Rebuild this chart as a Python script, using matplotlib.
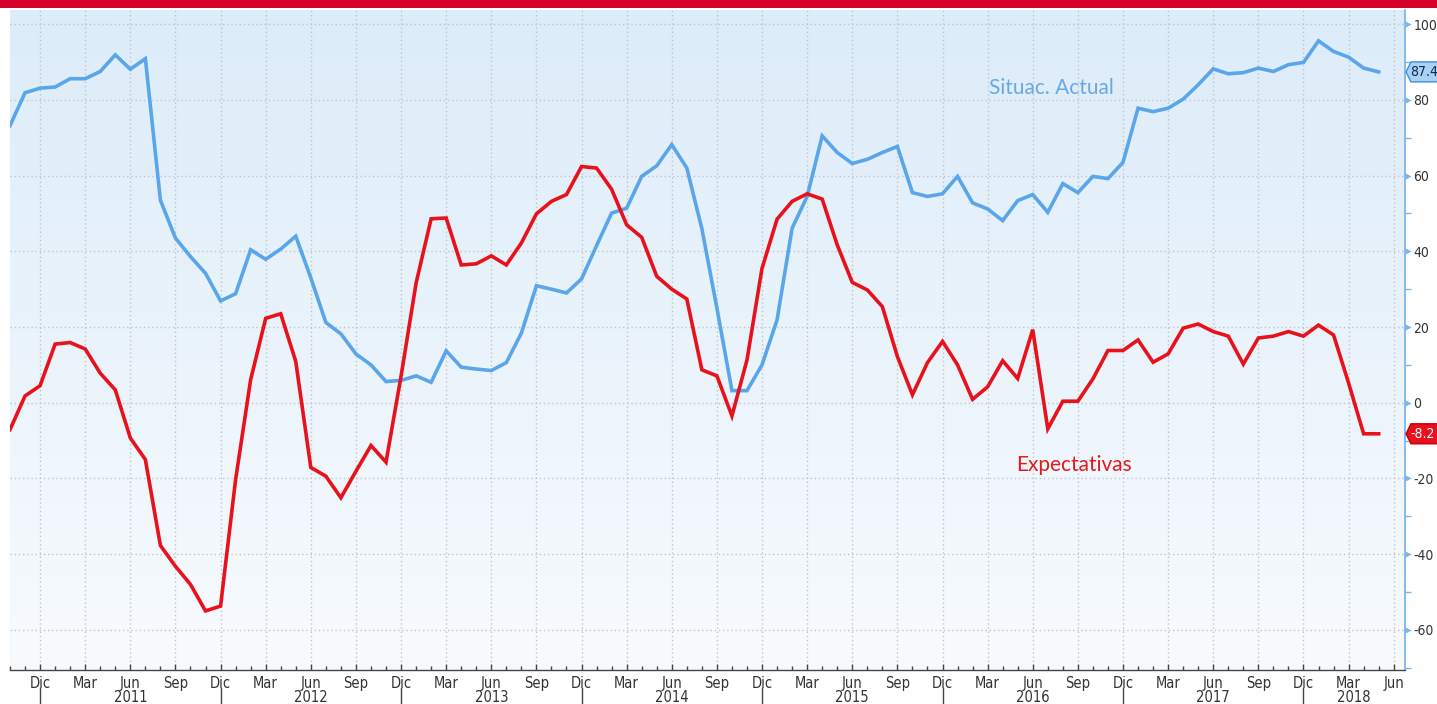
import numpy as np
import matplotlib
matplotlib.use("Agg")
import matplotlib.pyplot as plt
from matplotlib import font_manager as fm
from matplotlib.patches import Rectangle, Polygon
from matplotlib.lines import Line2D

# ---------------- data (monthly, Oct 2010 .. May 2018) ----------------
start_year, start_month = 2010, 10
situac_actual = [73.2, 81.9, 83.1, 83.4, 85.6, 85.6, 87.5, 91.9, 88.1, 90.9,
                 53.5, 43.5, 38.6, 34.2, 26.9, 28.8, 40.4, 37.9, 40.6, 44.0,
                 33.0, 21.2, 18.2, 12.9, 10.0, 5.6, 5.9, 7.1, 5.4, 13.7,
                 9.4, 8.9, 8.5, 10.6, 18.4, 30.9, 30.0, 29.0, 32.7, 41.5,
                 50.1, 51.4, 59.8, 62.6, 68.2, 62.0, 46.0, 25.0, 3.2, 3.2,
                 10.0, 21.9, 46.1, 54.5, 70.5, 66.1, 63.2, 64.3, 66.1, 67.7,
                 55.5, 54.5, 55.2, 59.8, 52.8, 51.2, 48.1, 53.4, 55.0, 50.3,
                 57.9, 55.5, 59.8, 59.2, 63.5, 77.8, 76.9, 77.8, 80.2, 84.0,
                 88.2, 86.9, 87.2, 88.4, 87.5, 89.3, 89.9, 95.6, 92.8, 91.3,
                 88.4, 87.4]
expectativas = [-7.1, 1.8, 4.5, 15.5, 15.9, 14.2, 7.8, 3.4, -9.3, -15.0,
                -37.7, -43.2, -48.0, -55.0, -53.7, -20.3, 6.1, 22.3, 23.5, 10.9,
                -17.1, -19.4, -25.1, -18.1, -11.3, -15.7, 7.0, 31.6, 48.6, 48.8,
                36.4, 36.7, 38.8, 36.4, 42.2, 49.9, 53.2, 55.0, 62.4, 62.0,
                56.4, 47.0, 43.7, 33.4, 30.0, 27.4, 8.7, 7.1, -3.5, 11.3,
                35.5, 48.5, 53.2, 55.2, 53.8, 41.7, 31.8, 29.8, 25.4, 12.2,
                2.1, 10.6, 16.2, 10.0, 0.9, 4.2, 11.1, 6.4, 19.3, -6.9,
                0.4, 0.4, 6.3, 13.8, 13.8, 16.6, 10.7, 12.9, 19.7, 20.8,
                18.8, 17.6, 10.2, 17.1, 17.6, 18.8, 17.6, 20.5, 17.9, 5.2,
                -8.2, -8.2]
month_names = ["Ene", "Feb", "Mar", "Abr", "May", "Jun",
               "Jul", "Ago", "Sep", "Oct", "Nov", "Dic"]
labelled_months = ["Dic", "Mar", "Jun", "Sep"]
series_names = ["Situac. Actual", "Expectativas"]
last_labels = ["87.4", "-8.2"]
y_ticks = [-60, -40, -20, 0, 20, 40, 60, 80, 100]

# ---------------- fonts ----------------
def pick_narrow():
    for fam, stretch, key in [("Liberation Sans Narrow", "normal", "Narrow"),
                              ("DejaVu Sans", "condensed", "Condensed")]:
        try:
            p = fm.findfont(fm.FontProperties(family=fam, stretch=stretch),
                            fallback_to_default=False)
            if key.lower() in p.lower():
                return dict(family=fam, stretch=stretch), True
        except Exception:
            pass
    return dict(family="DejaVu Sans"), False

TICK_FONT, NARROW = pick_narrow()
TICK_SIZE = 10.5 if NARROW else 9.5
YTICK_SIZE = 10 if NARROW else 9
LABEL_FONT = dict(family=["Lato", "DejaVu Sans"])

# ---------------- style ----------------
W, H = 1437, 704
BLUE = "#5aa6ea"
RED = "#e8121c"
AX_BLUE = "#7db6ea"
TXT = "#333333"

fig = plt.figure(figsize=(W / 100, H / 100), dpi=100)
fig.patch.set_facecolor("white")

# top red band
fig.add_artist(Rectangle((0, 1 - 8 / H), 1, 8 / H, transform=fig.transFigure,
                         facecolor="#d6002a", edgecolor="none"))

ax_l, ax_r, ax_t, ax_b = 10, 1405, 10, 670
ax = fig.add_axes([ax_l / W, (H - ax_b) / H, (ax_r - ax_l) / W, (ax_b - ax_t) / H])

n = len(situac_actual)
x = np.arange(n)
XMAX = 92.75
ax.set_xlim(0, XMAX)
ax.set_ylim(-70.6, 103.75)

# gradient background
grad = np.linspace(0, 1, 256).reshape(-1, 1)
c_top = np.array(matplotlib.colors.to_rgb("#dcecf9"))
c_bot = np.array(matplotlib.colors.to_rgb("#f8fbfe"))
img = c_bot[None, None, :] * (1 - grad[:, :, None]) + c_top[None, None, :] * grad[:, :, None]
ax.imshow(img, extent=[0, 1, 0, 1], transform=ax.transAxes, aspect="auto",
          origin="lower", zorder=0, interpolation="bilinear")

# month bookkeeping
months = [(start_month - 1 + i) % 12 for i in range(n + 2)]
years = [start_year + (start_month - 1 + i) // 12 for i in range(n + 2)]
quarter_idx = [i for i in range(n + 2) if month_names[months[i]] in labelled_months
               and i <= XMAX]
dec_idx = [i for i in quarter_idx if month_names[months[i]] == "Dic"]

# grid
for i in quarter_idx:
    ax.axvline(i, color="#bfc4c9", lw=1.0, ls=(0, (1, 2)), zorder=1)
for v in y_ticks:
    ax.axhline(v, color="#bfc4c9", lw=1.0, ls=(0, (1, 2)), zorder=1)

# series
ax.plot(x, situac_actual, color=BLUE, lw=2.6, zorder=3, solid_joinstyle="miter")
ax.plot(x, expectativas, color=RED, lw=2.6, zorder=3, solid_joinstyle="miter")

# series labels
ax.text(65.1, 83.1, series_names[0], color="#69a9e2", fontsize=15,
        ha="left", va="center", zorder=4, **LABEL_FONT)
ax.text(66.9, -16.5, series_names[1], color="#e3191c", fontsize=15,
        ha="left", va="center", zorder=4, **LABEL_FONT)

# spines
for s in ["left", "top"]:
    ax.spines[s].set_visible(False)
ax.spines["right"].set_color(AX_BLUE)
ax.spines["right"].set_linewidth(1.3)
ax.spines["bottom"].set_color("#444444")
ax.spines["bottom"].set_linewidth(1.0)

# y axis (right)
ax.yaxis.tick_right()
ax.set_yticks(y_ticks)
ax.set_yticklabels([str(v) for v in y_ticks])
ax.set_yticks(np.arange(-70, 101, 10), minor=True)
ax.tick_params(axis="y", which="major", length=0, pad=6, labelcolor=TXT)
ax.tick_params(axis="y", which="minor", length=4, width=1, color=AX_BLUE,
               direction="out")
ytr = ax.get_yaxis_transform()
ax.scatter([1.0025] * len(y_ticks), y_ticks, marker=">", s=22, color=AX_BLUE,
           transform=ytr, clip_on=False, zorder=5, linewidths=0)

# x axis
ax.set_xticks(quarter_idx)
ax.set_xticklabels([month_names[months[i]] for i in quarter_idx])
ax.set_xticks(np.arange(0, 93, 1), minor=True)
ax.tick_params(axis="x", which="major", direction="in", length=4, width=1,
               color="#444444", pad=4, labelcolor=TXT)
ax.tick_params(axis="x", which="minor", direction="in", length=3, width=1,
               color="#444444")
for lab in ax.get_xticklabels():
    lab.set_fontproperties(fm.FontProperties(size=TICK_SIZE, **TICK_FONT))
for lab in ax.get_yticklabels():
    lab.set_fontproperties(fm.FontProperties(size=YTICK_SIZE, **TICK_FONT))

# year labels and separators
xtr = ax.get_xaxis_transform()
ph = ax_b - ax_t
for i in dec_idx:
    ax.add_line(Line2D([i, i], [-(688 - ax_b) / ph, -(704 - ax_b) / ph], color="#444444",
                       lw=1, transform=xtr, clip_on=False))
for yr in sorted(set(years[:n])):
    if yr == start_year:
        continue
    jun = [i for i in range(n + 2) if years[i] == yr and months[i] == 5]
    dec_end = [i for i in dec_idx if years[i] == yr]
    if jun and dec_end:
        xc = jun[0]
    else:
        d = [i for i in dec_idx if years[i] == yr - 1][0]
        xc = (d + XMAX) / 2
    ax.text(xc, -(697 - ax_b) / ph, str(yr), transform=xtr, ha="center", va="center",
            color=TXT, clip_on=False,
            fontproperties=fm.FontProperties(size=TICK_SIZE, **TICK_FONT))

# last value tags
fig.canvas.draw()
to_fig = fig.transFigure.inverted()
for val, lab, fc, ec, tc in [(situac_actual[-1], last_labels[0], "#a9d2f6", "#3f8fdc", "#10284d"),
                             (expectativas[-1], last_labels[1], "#e8101a", "#c00010", "white")]:
    yd = ax.transData.transform((0, val))[1]
    xd = ax.transAxes.transform((1, 0))[0]
    pts = [(xd + 1, yd), (xd + 6, yd + 10), (xd + 45, yd + 10), (xd + 45, yd - 10), (xd + 6, yd - 10)]
    pts = [to_fig.transform(p) for p in pts]
    fig.add_artist(Polygon(pts, closed=True, facecolor=fc, edgecolor=ec, lw=1,
                           transform=fig.transFigure, zorder=10))
    tx, ty = to_fig.transform((xd + 5, yd))
    fig.text(tx, ty, lab, color=tc, ha="left", va="center", zorder=11,
             fontproperties=fm.FontProperties(size=YTICK_SIZE, **TICK_FONT))

fig.savefig("out.png", dpi=100, facecolor="white")
